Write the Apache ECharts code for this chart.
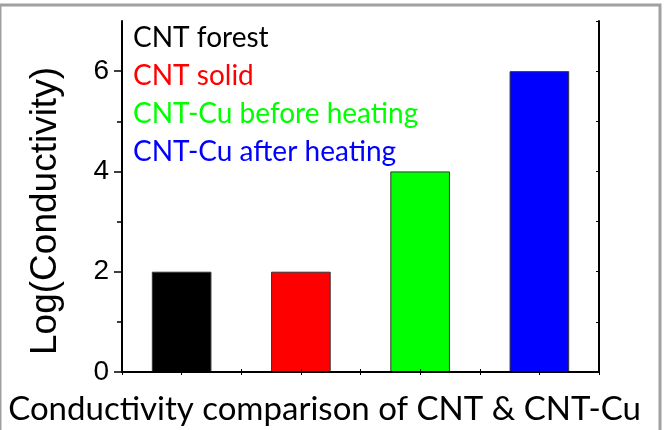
<!DOCTYPE html>
<html>
<head>
<meta charset="utf-8">
<script src="https://cdn.jsdelivr.net/npm/echarts@6/dist/echarts.min.js"></script>
<style>
  html, body { margin: 0; padding: 0; background: #fff; }
  #main { width: 667px; height: 430px; }
</style>
</head>
<body>
<div id="main"></div>
<script>
  // samples and log(conductivity)
  const categories = ['CNT forest', 'CNT solid', 'CNT-Cu before heating', 'CNT-Cu after heating'];
  const values = [2, 2, 4, 6];
  const colors = ['#000000', '#ff0000', '#00ff00', '#0000ff'];
  const majorTicks = [0, 2, 4, 6];
  const minorTicks = [1, 3, 5];

  const chart = echarts.init(document.getElementById('main'));

  // one series per sample, stacked so each bar stays centred on its category
  const series = categories.map(function (name, i) {
    return {
      name: name,
      type: 'bar',
      stack: 'all',
      barWidth: '50%',
      itemStyle: { color: colors[i], borderColor: '#333', borderWidth: 1 },
      data: values.map(function (v, j) { return j === i ? v : '-'; })
    };
  });

  const option = {
    animation: false,
    textStyle: { fontFamily: 'Liberation Sans' },
    graphic: [{
      type: 'rect',
      shape: { x: 0, y: 5, width: 660, height: 440 },
      style: { fill: 'none', stroke: '#a0a0a0', lineWidth: 3 },
      z: -1
    }],
    legend: {
      orient: 'vertical',
      left: 128,
      top: 22,
      padding: 0,
      itemWidth: 0,
      itemHeight: 10,
      itemGap: 6,
      icon: 'none',
      selectedMode: false,
      textStyle: { fontFamily: 'Lato', fontSize: 28, lineHeight: 32 },
      data: categories.map(function (name, i) {
        return { name: name, textStyle: { color: colors[i] } };
      })
    },
    grid: { left: 122, right: 68, top: 21, bottom: 58, outerBoundsMode: 'none' },
    xAxis: [{
      type: 'category',
      data: categories,
      z: 10,
      name: 'Conductivity comparison of CNT & CNT-Cu',
      nameLocation: 'middle',
      nameGap: 21,
      // the caption is centred on the whole picture, not on the plot
      nameTextStyle: { fontFamily: 'Lato', fontSize: 33, color: '#000', padding: [0, 72, 0, 0] },
      axisLine: { lineStyle: { color: '#000', width: 2 } },
      axisTick: { show: false },
      axisLabel: { show: false }
    }, {
      type: 'value',
      position: 'bottom',
      min: 0, max: 4, interval: 0.5,
      z: 10,
      axisLine: { show: false },
      axisTick: { inside: true, length: 3, lineStyle: { color: '#000', width: 1 } },
      axisLabel: { show: false },
      splitLine: { show: false }
    }, {
      type: 'value',
      position: 'top',
      min: 0, max: 4, interval: 0.5,
      z: 10,
      axisLine: { show: true, lineStyle: { color: '#000', width: 2 } },
      axisTick: { inside: true, length: 3, lineStyle: { color: '#000', width: 1 } },
      axisLabel: { show: false },
      splitLine: { show: false }
    }],
    yAxis: [{
      type: 'value',
      min: 0, max: 7,
      name: 'Log(Conductivity)',
      nameLocation: 'middle',
      nameGap: 58,
      nameTextStyle: { fontSize: 37, color: '#000', padding: [0, 29, 0, 0] },
      axisLine: { show: true, lineStyle: { color: '#000', width: 2 } },
      axisTick: { customValues: majorTicks, length: 8, lineStyle: { color: '#000', width: 1.5 } },
      axisLabel: { customValues: majorTicks, fontSize: 28, color: '#000', margin: 13 },
      splitLine: { show: false }
    }, {
      type: 'value',
      position: 'left',
      min: 0, max: 7,
      axisLine: { show: false },
      axisTick: { customValues: minorTicks, length: 5, lineStyle: { color: '#000', width: 1.5 } },
      axisLabel: { show: false },
      splitLine: { show: false }
    }, {
      type: 'value',
      position: 'right',
      min: 0, max: 7, interval: 1,
      axisLine: { show: true, lineStyle: { color: '#000', width: 2 } },
      axisTick: { inside: true, length: 3, lineStyle: { color: '#000', width: 1 } },
      axisLabel: { show: false },
      splitLine: { show: false }
    }],
    series: series
  };

  chart.setOption(option);
</script>
</body>
</html>
